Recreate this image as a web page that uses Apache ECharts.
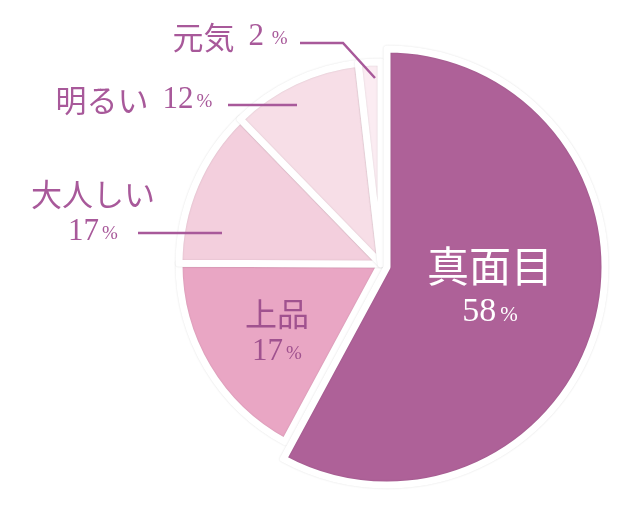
<!DOCTYPE html>
<html><head><meta charset="utf-8">
<script src="https://cdn.jsdelivr.net/npm/echarts@6/dist/echarts.min.js"></script>
<style>html,body{margin:0;padding:0;background:#fff}#c{width:640px;height:508px}</style>
</head><body><div id="c"></div>
<script>
const categories = ['真面目', '上品', '大人しい', '明るい', '元気'];
const shares = [58, 17.2, 12.7, 10.5, 1.8];
const pctLabels = ['58', '17', '17', '12', '2'];
const colors = ['#ae6198', '#e9a6c4', '#f3cfdd', '#f7dee7', '#fbecf2'];

const TXT = '#a8599a';
const CJK = '"Noto Sans CJK JP"';
const SERIF = '"Liberation Serif","DejaVu Serif",serif';

const rich = {
  n0: {fontFamily: CJK, fontSize: 42, color: '#fff', lineHeight: 52},
  d0: {fontFamily: SERIF, fontSize: 34, color: '#fff', lineHeight: 40},
  p0: {fontFamily: SERIF, fontSize: 21, color: '#fff', padding: [6, 0, 0, 4]},
  n: {fontFamily: CJK, fontSize: 31, color: TXT, lineHeight: 40},
  n1: {fontFamily: CJK, fontSize: 32, color: '#a0528f', lineHeight: 40},
  d: {fontFamily: SERIF, fontSize: 31, color: TXT, lineHeight: 36},
  d1: {fontFamily: SERIF, fontSize: 31, color: '#a0528f', lineHeight: 36},
  p: {fontFamily: SERIF, fontSize: 19, color: TXT, padding: [5, 0, 0, 3]},
  p1: {fontFamily: SERIF, fontSize: 19, color: '#a0528f', padding: [5, 0, 0, 3]},
  sp: {fontSize: 14, width: 14}
};

function fmt(i) {
  const c = categories[i], v = pctLabels[i];
  if (i === 0) return '{n0|' + c + '}\n{d0|' + v + '}{p0|%}';
  if (i === 1) return '{n1|' + c + '}\n{d1|' + v + '}{p1|%}';
  if (i === 2) return '{n|' + c + '}\n{d|' + v + '}{p|%}';
  if (i === 4) return '{n|' + c + '}{sp| }{d|' + v + '}{p| %}';
  return '{n|' + c + '}{sp| }{d|' + v + '}{p|%}';
}

const labelPos = [
  {x: 490, y: 286},
  {x: 277, y: 332},
  {x: 93, y: 212},
  {x: 134, y: 100},
  {x: 230, y: 37}
];
const linePts = {
  2: [[222, 233], [180, 233], [138, 233]],
  3: [[297, 105], [262, 105], [228, 105]],
  4: [[375, 78], [343, 43], [300, 43]]
};

function makeData(fillIdx, labelIdx) {
  return categories.map((c, i) => {
    const fill = fillIdx.includes(i);
    const lab = labelIdx.includes(i);
    const outside = i >= 2;
    return {
      name: c,
      value: shares[i],
      itemStyle: fill ? {color: colors[i]} : {color: 'transparent', borderWidth: 0, shadowBlur: 0},
      label: {show: lab, position: outside ? 'outside' : 'inside', formatter: fmt(i), rich: rich},
      labelLine: {show: lab && outside, lineStyle: {color: TXT, width: 2.5}}
    };
  });
}

function layout(params) {
  const i = params.dataIndex;
  const p = labelPos[i];
  const r = {x: p.x, y: p.y, align: 'center', verticalAlign: 'middle'};
  if (linePts[i]) r.labelLinePoints = linePts[i];
  return r;
}

const common = {
  type: 'pie',
  startAngle: 90,
  clockwise: true,
  silent: true,
  animation: false,
  avoidLabelOverlap: false,
  itemStyle: {borderColor: '#fff', borderWidth: 7, shadowBlur: 2, shadowColor: 'rgba(0,0,0,0.13)'},
  labelLayout: layout
};

const chart = echarts.init(document.getElementById('c'), null, {renderer: 'canvas'});
chart.setOption({
  animation: false,
  series: [
    Object.assign({}, common, {center: [381, 264], radius: 202, data: makeData([1, 2, 3, 4], [1]), z: 1}),
    Object.assign({}, common, {center: [387, 267], radius: 218, data: makeData([0], [0]), z: 2}),
    Object.assign({}, common, {center: [381, 264], radius: 202, data: makeData([], [2, 3, 4]), z: 3})
  ]
});
</script>
</body></html>
